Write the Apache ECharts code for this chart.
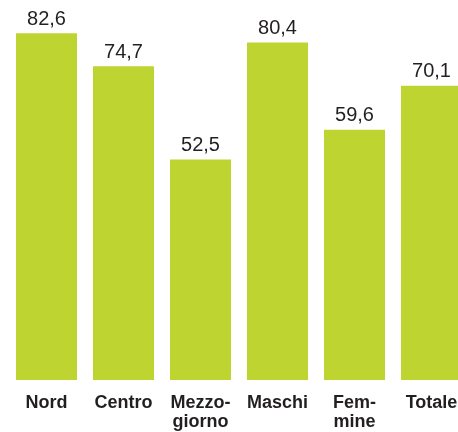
<!DOCTYPE html>
<html>
<head>
<meta charset="utf-8">
<script src="https://cdn.jsdelivr.net/npm/echarts@6/dist/echarts.min.js"></script>
<style>
  html, body { margin: 0; padding: 0; background: #fff; overflow: hidden; }
  #main { width: 470px; height: 432px; }
</style>
</head>
<body>
<div id="main"></div>
<script>
var categories = ['Nord', 'Centro', 'Mezzo-\ngiorno', 'Maschi', 'Fem-\nmine', 'Totale'];
var values = [82.6, 74.7, 52.5, 80.4, 59.6, 70.1];

// the chart is a bit wider than the window: the last bar is cut at the right edge
var myChart = echarts.init(document.getElementById('main'));
var option = {
    animation: false,
    grid: { left: 8, right: 0, top: 0, bottom: 52 },
    xAxis: {
        type: 'category',
        data: categories,
        axisLine: { show: false },
        axisTick: { show: false },
        axisLabel: {
            interval: 0,
            margin: 14,
            color: '#231f20',
            fontFamily: '"Liberation Sans", Arial, sans-serif',
            fontWeight: 'bold',
            fontSize: 18,
            lineHeight: 19
        }
    },
    yAxis: {
        type: 'value',
        min: 0,
        max: 90.5,
        show: false,
        splitLine: { show: false }
    },
    series: [{
        type: 'bar',
        data: values,
        barWidth: 61,
        itemStyle: { color: '#bed531' },
        label: {
            show: true,
            position: 'top',
            distance: 4,
            color: '#231f20',
            fontFamily: '"Liberation Sans", Arial, sans-serif',
            fontSize: 20,
            formatter: function (p) {
                return p.value.toFixed(1).replace('.', ',');
            }
        }
    }]
};
myChart.setOption(option);
</script>
</body>
</html>
